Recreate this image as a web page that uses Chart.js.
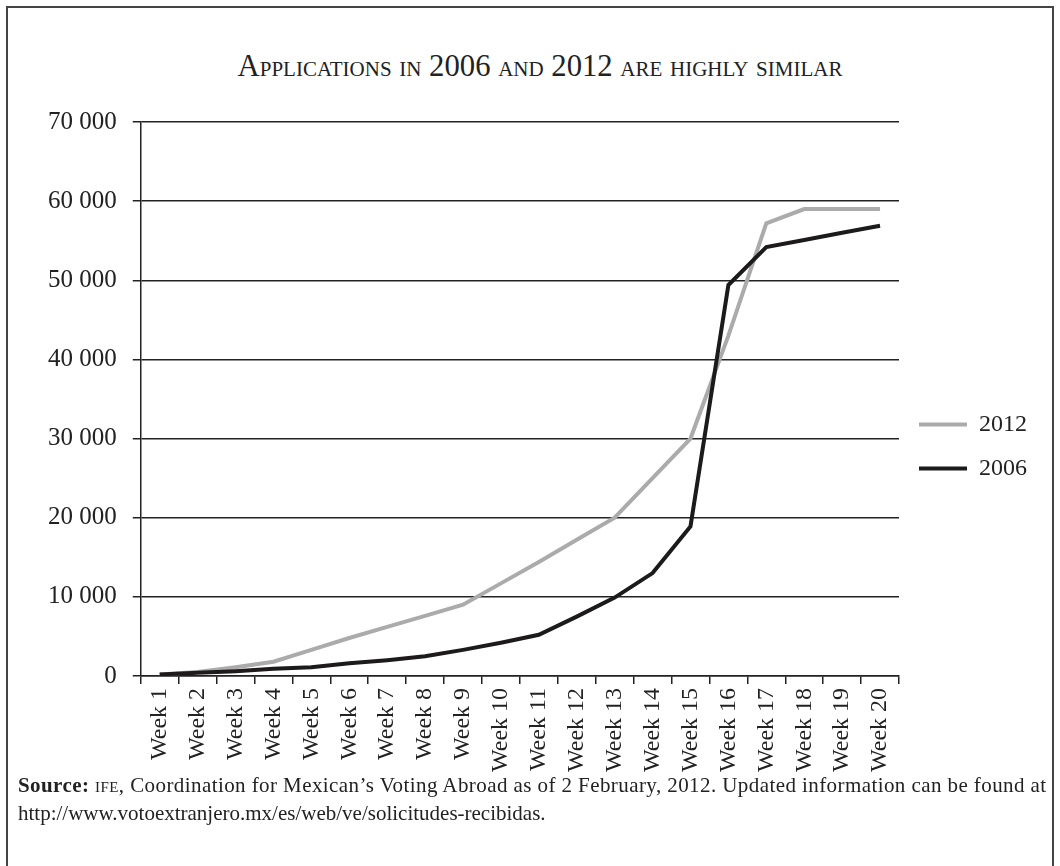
<!DOCTYPE html>
<html>
<head>
<meta charset="utf-8">
<script src="https://cdn.jsdelivr.net/npm/chart.js@4.4.1/dist/chart.umd.min.js"></script>
<style>
  body { margin: 0; background: #fff; width: 1060px; height: 866px; overflow: hidden; position: relative; font-family: "Liberation Serif", serif; color: #222; }
  #frame { position: absolute; left: 6px; top: 6px; width: 1048px; height: 900px; border: 2px solid #444; box-sizing: border-box; }
  #title { position: absolute; left: 10px; width: 1060px; top: 47px; text-align: center; font-size: 30.7px; line-height: 38px; font-variant: small-caps; color: #222; }
  #wrap { position: absolute; left: 8px; top: 91px; width: 1046px; height: 699px; }
  #source { position: absolute; left: 18px; top: 771px; width: 1040px; font-size: 21px; line-height: 28px; color: #222; white-space: nowrap; }
</style>
</head>
<body>
<div id="frame"></div>
<div id="title">Applications in 2006 and 2012 are highly similar</div>
<div id="wrap"><canvas id="myChart"></canvas></div>
<div id="source"><span style="letter-spacing: 0.42px"><b>Source:</b> <span style="font-variant: small-caps">ife</span>, Coordination for Mexican’s Voting Abroad as of 2 February, 2012. Updated information can be found at</span><br>http://www.votoextranjero.mx/es/web/ve/solicitudes-recibidas.</div>
<script>
  const weeks = ['Week 1', 'Week 2', 'Week 3', 'Week 4', 'Week 5', 'Week 6', 'Week 7', 'Week 8', 'Week 9', 'Week 10',
    'Week 11', 'Week 12', 'Week 13', 'Week 14', 'Week 15', 'Week 16', 'Week 17', 'Week 18', 'Week 19', 'Week 20'];
  const apps2012 = [200, 500, 1100, 1800, 3300, 4800, 6200, 7600, 9000, 11700,
    14400, 17200, 20000, 25000, 30000, 43000, 57200, 59000, 59000, 59000];
  const apps2006 = [200, 400, 600, 900, 1100, 1600, 2000, 2500, 3300, 4200,
    5200, 7500, 9900, 13000, 18900, 49400, 54200, 55100, 56000, 56900];
  const yTicks = [0, 10000, 20000, 30000, 40000, 50000, 60000, 70000];

  const serif = 'Liberation Serif';
  const ctx = document.getElementById('myChart');

  new Chart(ctx, {
    type: 'line',
    data: {
      labels: weeks,
      datasets: [
        {
          label: '2006',
          data: apps2006,
          borderColor: '#1c1a1a',
          backgroundColor: '#1c1a1a',
          borderWidth: 4,
          pointRadius: 0,
          tension: 0
        },
        {
          label: '2012',
          data: apps2012,
          borderColor: '#ababab',
          backgroundColor: '#ababab',
          borderWidth: 4,
          pointRadius: 0,
          tension: 0
        }
      ]
    },
    options: {
      responsive: true,
      maintainAspectRatio: false,
      animation: false,
      layout: { padding: { left: 24, right: 17, top: 12, bottom: 14 } },
      plugins: {
        tooltip: { enabled: false },
        legend: {
          position: 'right',
          reverse: true,
          // empty title only nudges the items down a little
          title: { display: true, text: '', font: { size: 10 }, padding: 1 },
          labels: {
            usePointStyle: true,
            pointStyle: 'line',
            pointStyleWidth: 48,
            padding: 20,
            color: '#222',
            font: { family: serif, size: 24 }
          }
        }
      },
      scales: {
        x: {
          offset: true,
          grid: {
            offset: true,
            drawOnChartArea: false,
            drawTicks: true,
            tickLength: 8,
            color: '#222',
            lineWidth: 1.5
          },
          border: { color: '#222', width: 1.5 },
          ticks: {
            minRotation: 90,
            maxRotation: 90,
            autoSkip: false,
            padding: 4,
            color: '#222',
            font: { family: serif, size: 24 }
          }
        },
        y: {
          min: 0,
          max: 70000,
          afterBuildTicks: (scale) => { scale.ticks = yTicks.map(v => ({ value: v })); },
          grid: {
            color: '#222',
            lineWidth: 1.5,
            tickLength: 8
          },
          border: { color: '#222', width: 1.5 },
          ticks: {
            padding: 16,
            color: '#222',
            font: { family: serif, size: 25 },
            callback: (v) => String(v).replace(/\B(?=(\d{3})+(?!\d))/g, ' ')
          }
        }
      }
    }
  });
</script>
</body>
</html>
